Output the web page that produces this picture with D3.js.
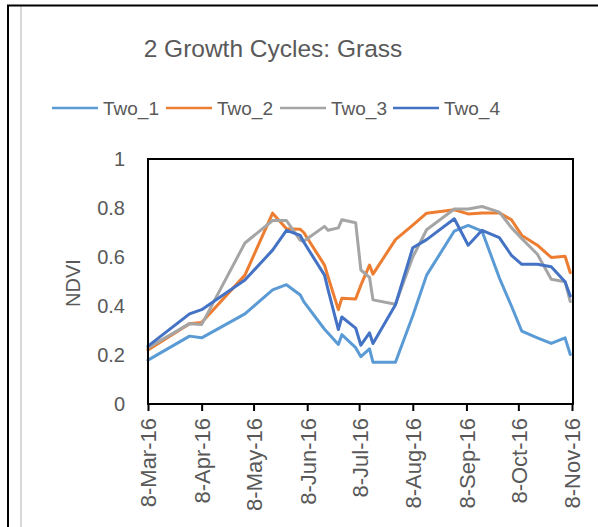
<!DOCTYPE html>
<html>
<head>
<meta charset="utf-8">
<script src="https://cdn.jsdelivr.net/npm/d3@7"></script>
<style>
  body{margin:0;background:#fff;}
  text{font-family:"Liberation Sans",Arial,sans-serif;fill:#595959;}
</style>
</head>
<body>
<svg id="mainSVG" width="598" height="527"></svg>
<script>
// observation dates (shared by all four plots)
var dates = ["2016-03-08","2016-04-01","2016-04-08","2016-05-03","2016-05-19","2016-05-27",
  "2016-06-04","2016-06-06","2016-06-18","2016-06-20","2016-06-26","2016-06-28",
  "2016-07-06","2016-07-09","2016-07-14","2016-07-16","2016-07-29","2016-08-08",
  "2016-08-16","2016-09-01","2016-09-09","2016-09-17","2016-09-27","2016-10-04",
  "2016-10-10","2016-10-19","2016-10-27","2016-11-04","2016-11-07"];

var two1 = [0.179,0.277,0.270,0.368,0.466,0.487,0.445,0.418,0.305,0.290,0.243,0.283,
  0.230,0.193,0.225,0.170,0.170,0.360,0.526,0.706,0.729,0.706,0.515,0.400,
  0.297,0.270,0.247,0.270,0.202];
var two2 = [0.220,0.328,0.333,0.526,0.779,0.715,0.713,0.700,0.567,0.520,0.385,0.432,
  0.429,0.485,0.567,0.530,0.671,0.730,0.779,0.793,0.776,0.780,0.780,0.752,
  0.688,0.648,0.598,0.603,0.536];
var two3 = [0.229,0.328,0.324,0.657,0.749,0.749,0.668,0.664,0.725,0.709,0.719,0.752,
  0.740,0.547,0.517,0.425,0.407,0.600,0.711,0.796,0.796,0.806,0.783,0.720,
  0.675,0.611,0.509,0.499,0.418];
var two4 = [0.236,0.368,0.385,0.506,0.628,0.709,0.688,0.661,0.526,0.468,0.304,0.355,
  0.310,0.240,0.290,0.247,0.405,0.638,0.671,0.756,0.648,0.709,0.679,0.607,
  0.570,0.570,0.560,0.499,0.441];

var seriesNames = ["Two_1","Two_2","Two_3","Two_4"];
var seriesColors = ["#5B9BD5","#ED7D31","#A5A5A5","#4472C4"];
var xTicks = ["2016-03-08","2016-04-08","2016-05-08","2016-06-08","2016-07-08",
  "2016-08-08","2016-09-08","2016-10-08","2016-11-08"];
var yTicks = [0,0.2,0.4,0.6,0.8,1];

!function(){
  var parse = d3.timeParse("%Y-%m-%d");
  var svg = d3.select("#mainSVG");
  var pLeft=148,pRight=572,pTop=159,pBottom=404;

  // outer frame bits (screenshot edges)
  svg.append("line").attr("x1",21).attr("x2",21).attr("y1",6).attr("y2",527)
    .attr("stroke","#d9d9d9").attr("stroke-width",2);
  svg.append("line").attr("x1",8).attr("x2",8).attr("y1",5).attr("y2",527)
    .attr("stroke","#000").attr("stroke-width",2);
  svg.append("line").attr("x1",7).attr("x2",598).attr("y1",5.5).attr("y2",5.5)
    .attr("stroke","#000").attr("stroke-width",2);

  var x = d3.scaleTime().domain([parse("2016-03-08"),parse("2016-11-08")]).range([pLeft,pRight]);
  var y = d3.scaleLinear().domain([0,1]).range([pBottom,pTop]);

  svg.append("text").attr("x",273).attr("y",57).attr("text-anchor","middle")
    .style("font-size","24.5px").text("2 Growth Cycles: Grass");

  // legend
  var legX = [52,166,280,393];
  seriesNames.forEach(function(n,i){
    svg.append("line").attr("x1",legX[i]).attr("x2",legX[i]+46).attr("y1",108).attr("y2",108)
      .attr("stroke",seriesColors[i]).attr("stroke-width",2.5);
    svg.append("text").attr("x",legX[i]+51).attr("y",115)
      .style("font-size","19px").text(n);
  });

  // lines
  var line = d3.line().x(function(d){return x(d.date);}).y(function(d){return y(d.v);});
  [two1,two2,two3,two4].forEach(function(vals,i){
    var pts = vals.map(function(v,k){ return {date:parse(dates[k]),v:v}; });
    svg.append("path").datum(pts).attr("d",line)
      .attr("fill","none").attr("stroke",seriesColors[i]).attr("stroke-width",3)
      .attr("stroke-linejoin","round").attr("stroke-linecap","round");
  });

  // axes
  var xAxis = svg.append("g").attr("transform","translate(0,"+pBottom+")")
    .call(d3.axisBottom(x).tickValues(xTicks.map(parse)).tickFormat(d3.timeFormat("%-d-%b-%y")).tickSize(7));
  xAxis.select(".domain").remove();
  xAxis.selectAll(".tick line").attr("stroke","#000").attr("stroke-width",2);
  xAxis.selectAll("text")
    .attr("transform","rotate(-90)")
    .attr("x",-14).attr("y",0).attr("dy","0.36em")
    .attr("text-anchor","end")
    .style("font-size","22px").attr("fill","#595959");

  var yAxis = svg.append("g").attr("transform","translate("+pLeft+",0)")
    .call(d3.axisLeft(y).tickValues(yTicks).tickFormat(d3.format("~g")).tickSize(0).tickPadding(23));
  yAxis.select(".domain").remove();
  yAxis.selectAll("text").style("font-size","20px").attr("fill","#595959");

  svg.append("text").attr("transform","translate(80,283) rotate(-90)")
    .attr("text-anchor","middle").style("font-size","20px").text("NDVI");

  // plot frame
  svg.append("rect").attr("x",pLeft).attr("y",pTop).attr("width",pRight-pLeft+1).attr("height",pBottom-pTop)
    .attr("fill","none").attr("stroke","#000").attr("stroke-width",2);
}();
</script>
</body>
</html>
